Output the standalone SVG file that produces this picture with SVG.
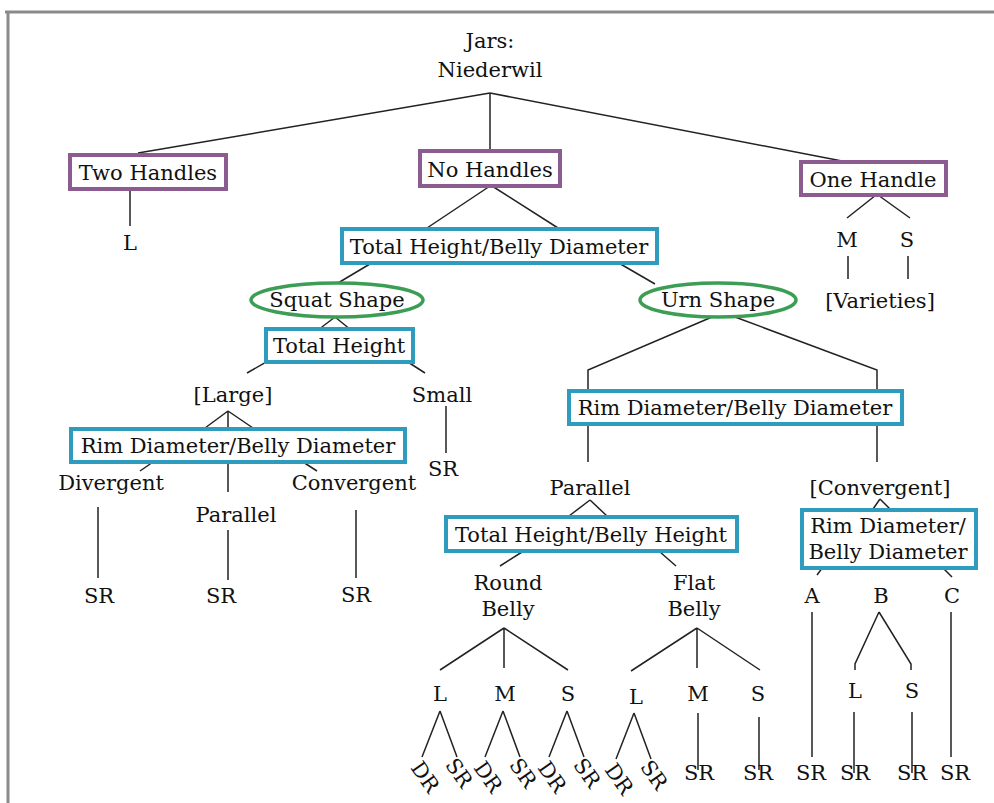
<svg xmlns="http://www.w3.org/2000/svg" width="994" height="803" viewBox="0 0 994 803">
<style>
text{font-family:"DejaVu Serif","Liberation Serif",serif;font-size:21px;fill:#111;text-anchor:middle}
.c line,.c path{stroke:#222;stroke-width:1.5;fill:none}
.p{fill:#fff;stroke:#8c5b8f;stroke-width:4}
.b{fill:#fff;stroke:#2f9bbd;stroke-width:4}
.g{fill:#fff;stroke:#3c9e55;stroke-width:3.5}
.r text{font-size:21px}
</style>
<rect x="0" y="0" width="994" height="803" fill="#fff"/>
<path d="M5,12 H994 M8,12 V803" stroke="#8a8a8a" stroke-width="3" fill="none"/>
<g id="connectors" class="c">
<path d="M490,93 L138,153 M490,93 V151 M490,93 L842,161"/>
<path d="M130,190 V226"/>
<path d="M490,186 L427,228 M492,186 L558,228"/>
<path d="M876,195 L847,218 M878,195 L910,218 M848,256 V279 M908,256 V279"/>
<path d="M385,255 L338,283 M605,255 L655,284"/>
<path d="M335,317 L318,330 M335,317 L351,330"/>
<path d="M275,357 L247,373 M397,355 L425,373"/>
<path d="M446,406 V453"/>
<path d="M228,411 L205,428 M228,411 V428 M228,411 L253,428"/>
<path d="M153,462 L140,471 M228,462 V492 M303,462 L317,471"/>
<path d="M98,507 V578 M228,530 V580 M356,510 V578"/>
<path d="M712,317 L588,370 V390 M735,317 L877,370 V390"/>
<path d="M588,424 V462 M877,424 V462"/>
<path d="M590,500 L569,516 M590,500 L607,516"/>
<path d="M522,552 L500,566 M660,552 L676,566"/>
<path d="M504,628 L440,670 M504,628 V668 M504,628 L568,670"/>
<path d="M697,628 L631,671 M697,628 V668 M697,628 L760,670"/>
<path d="M440,711 L422,757 M440,711 L457,757 M503,711 L485,757 M503,711 L520,757 M567,711 L549,757 M567,711 L584,757 M634,713 L616,759 M634,713 L651,759"/>
<path d="M698,713 V770 M759,717 V770"/>
<path d="M880,499 L873,509 M880,499 L890,509"/>
<path d="M823,567 L817,575 M942,567 L952,577"/>
<path d="M812,612 V757 M951,612 V757"/>
<path d="M879,612 L855,664 V670 M879,612 L911,664 V670"/>
<path d="M854,712 V773 M912,712 V773"/>
</g>
<g id="root"><text x="490" y="48">Jars:</text><text x="490" y="77">Niederwil</text></g>
<g id="two-handles"><rect class="p" x="70" y="155" width="156" height="34"/><text x="148" y="180">Two Handles</text></g>
<g id="two-L"><text x="130" y="250">L</text></g>
<g id="no-handles"><rect class="p" x="420" y="151" width="140" height="35"/><text x="490" y="177">No Handles</text></g>
<g id="one-handle"><rect class="p" x="801" y="162" width="145" height="33"/><text x="873" y="187">One Handle</text></g>
<g id="one-M"><text x="847" y="247">M</text></g>
<g id="one-S"><text x="907" y="247">S</text></g>
<g id="varieties"><text x="880" y="308">[Varieties]</text></g>
<g id="th-bd"><rect class="b" x="342" y="229" width="315" height="34"/><text x="499" y="254">Total Height/Belly Diameter</text></g>
<g id="squat"><ellipse class="g" cx="337" cy="300" rx="86" ry="17"/><text x="337" y="307">Squat Shape</text></g>
<g id="urn"><ellipse class="g" cx="718" cy="300" rx="78" ry="17"/><text x="718" y="307">Urn Shape</text></g>
<g id="total-height"><rect class="b" x="266" y="329" width="147" height="33"/><text x="339" y="353">Total Height</text></g>
<g id="large"><text x="233" y="402">[Large]</text></g>
<g id="small"><text x="442" y="402">Small</text></g>
<g id="small-sr"><text x="443" y="476">SR</text></g>
<g id="rim-left"><rect class="b" x="71" y="429" width="334" height="33"/><text x="238" y="453">Rim Diameter/Belly Diameter</text></g>
<g id="divergent"><text x="111" y="490">Divergent</text></g>
<g id="parallel-left"><text x="236" y="522">Parallel</text></g>
<g id="convergent-left"><text x="354" y="490">Convergent</text></g>
<g id="sr-div"><text x="99" y="603">SR</text></g>
<g id="sr-par"><text x="221" y="603">SR</text></g>
<g id="sr-conv"><text x="356" y="602">SR</text></g>
<g id="rim-right"><rect class="b" x="569" y="391" width="333" height="33"/><text x="735" y="415">Rim Diameter/Belly Diameter</text></g>
<g id="parallel-right"><text x="590" y="495">Parallel</text></g>
<g id="convergent-right"><text x="880" y="495">[Convergent]</text></g>
<g id="th-bh"><rect class="b" x="446" y="517" width="291" height="34"/><text x="591" y="542">Total Height/Belly Height</text></g>
<g id="round-belly"><text x="508" y="590">Round</text><text x="508" y="616">Belly</text></g>
<g id="flat-belly"><text x="694" y="590">Flat</text><text x="694" y="616">Belly</text></g>
<g id="rb-L"><text x="440" y="701">L</text></g>
<g id="rb-M"><text x="505" y="701">M</text></g>
<g id="rb-S"><text x="568" y="701">S</text></g>
<g id="fb-L"><text x="636" y="704">L</text></g>
<g id="fb-M"><text x="698" y="701">M</text></g>
<g id="fb-S"><text x="758" y="701">S</text></g>
<g id="rot" class="r">
<text transform="translate(425,777) rotate(55)" y="7">DR</text>
<text transform="translate(459,773) rotate(55)" y="7">SR</text>
<text transform="translate(488,777) rotate(55)" y="7">DR</text>
<text transform="translate(523,773) rotate(55)" y="7">SR</text>
<text transform="translate(552,777) rotate(55)" y="7">DR</text>
<text transform="translate(587,773) rotate(55)" y="7">SR</text>
<text transform="translate(619,779) rotate(55)" y="7">DR</text>
<text transform="translate(654,775) rotate(55)" y="7">SR</text>
</g>
<g id="fb-M-sr"><text x="699" y="780">SR</text></g>
<g id="fb-S-sr"><text x="758" y="780">SR</text></g>
<g id="rim-conv"><rect class="b" x="802" y="510" width="174" height="58"/><text x="888" y="533">Rim Diameter/</text><text x="888" y="559">Belly Diameter</text></g>
<g id="A"><text x="812" y="603">A</text></g>
<g id="B"><text x="881" y="603">B</text></g>
<g id="C"><text x="952" y="603">C</text></g>
<g id="B-L"><text x="855" y="698">L</text></g>
<g id="B-S"><text x="912" y="698">S</text></g>
<g id="sr-A"><text x="811" y="780">SR</text></g>
<g id="sr-BL"><text x="855" y="780">SR</text></g>
<g id="sr-BS"><text x="912" y="780">SR</text></g>
<g id="sr-C"><text x="955" y="780">SR</text></g>
</svg>
